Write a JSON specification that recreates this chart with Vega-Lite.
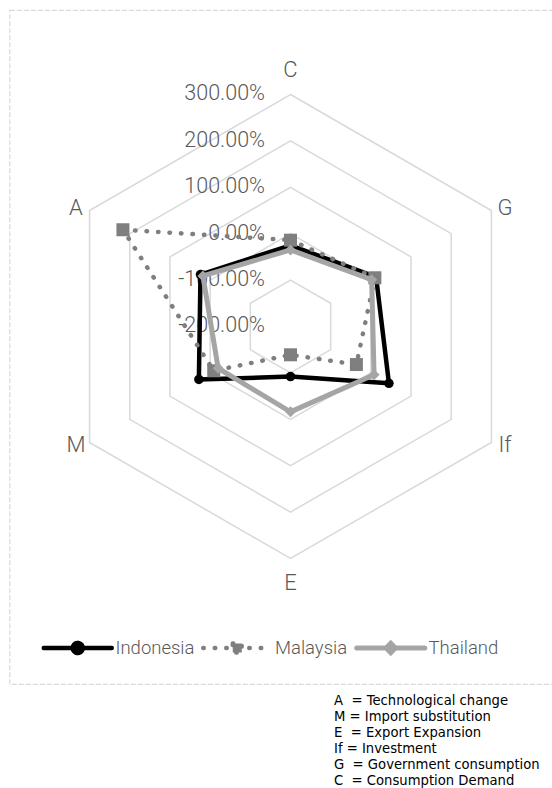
{
  "$schema": "https://vega.github.io/schema/vega-lite/v6.json",
  "width": 545,
  "height": 674,
  "autosize": {"type": "none"},
  "padding": {"left": 9.5, "top": 10, "right": -2.5, "bottom": 104},
  "background": "white",
  "config": {
    "view": {"stroke": "#d9d9d9", "strokeDash": [5, 2], "strokeWidth": 1.2},
    "font": "Roboto"
  },
  "title": {
    "text": [
      "A\u00a0 = Technological change",
      "M = Import substitution",
      "E\u00a0 = Export Expansion",
      "If = Investment",
      "G\u00a0 = Government consumption",
      "C\u00a0 = Consumption Demand"
    ],
    "orient": "bottom",
    "anchor": "start",
    "frame": "group",
    "align": "left",
    "baseline": "top",
    "dx": 324.5,
    "offset": 11,
    "font": "DejaVu Sans",
    "fontSize": 13.2,
    "fontWeight": "normal",
    "color": "#000000",
    "lineHeight": 16
  },
  "datasets": {
    "series": [
      {"country": "Indonesia", "axis": "C", "value": -25},
      {"country": "Indonesia", "axis": "G", "value": 13},
      {"country": "Indonesia", "axis": "If", "value": 45},
      {"country": "Indonesia", "axis": "E", "value": -92},
      {"country": "Indonesia", "axis": "M", "value": 28},
      {"country": "Indonesia", "axis": "A", "value": 24},
      {"country": "Malaysia", "axis": "C", "value": -14},
      {"country": "Malaysia", "axis": "G", "value": 10},
      {"country": "Malaysia", "axis": "If", "value": -36},
      {"country": "Malaysia", "axis": "E", "value": -139},
      {"country": "Malaysia", "axis": "M", "value": -9},
      {"country": "Malaysia", "axis": "A", "value": 217},
      {"country": "Thailand", "axis": "C", "value": -35},
      {"country": "Thailand", "axis": "G", "value": 2},
      {"country": "Thailand", "axis": "If", "value": 8},
      {"country": "Thailand", "axis": "E", "value": -16},
      {"country": "Thailand", "axis": "M", "value": -20},
      {"country": "Thailand", "axis": "A", "value": 18}
    ],
    "rings": [
      {"axis": "C", "ring": [-100, 0, 100, 200, 300]},
      {"axis": "G", "ring": [-100, 0, 100, 200, 300]},
      {"axis": "If", "ring": [-100, 0, 100, 200, 300]},
      {"axis": "E", "ring": [-100, 0, 100, 200, 300]},
      {"axis": "M", "ring": [-100, 0, 100, 200, 300]},
      {"axis": "A", "ring": [-100, 0, 100, 200, 300]}
    ],
    "ticks": [
      {"tick": -200, "label": "-200.00%"},
      {"tick": -100, "label": "-100.00%"},
      {"tick": 0, "label": "0.00%"},
      {"tick": 100, "label": "100.00%"},
      {"tick": 200, "label": "200.00%"},
      {"tick": 300, "label": "300.00%"}
    ],
    "axes": [
      {"axis": "C"}, {"axis": "G"}, {"axis": "If"},
      {"axis": "E"}, {"axis": "M"}, {"axis": "A"}
    ]
  },
  "encoding": {
    "x": {"field": "x", "type": "quantitative", "scale": {"domain": [-605.6, 569.0], "nice": false, "zero": false}, "axis": null},
    "y": {"field": "y", "type": "quantitative", "scale": {"domain": [-770.5, 682.1], "nice": false, "zero": false}, "axis": null}
  },
  "layer": [
    {
      "data": {"name": "rings"},
      "transform": [
        {"flatten": ["ring"]},
        {"calculate": "indexof(['C','G','If','E','M','A'], datum.axis)", "as": "k"},
        {"calculate": "PI / 2 - datum.k * PI / 3", "as": "angle"},
        {"calculate": "(datum.ring + 200) * cos(datum.angle)", "as": "x"},
        {"calculate": "(datum.ring + 200) * sin(datum.angle)", "as": "y"}
      ],
      "mark": {"type": "line", "interpolate": "linear-closed", "color": "#d9d9d9", "strokeWidth": 1.5},
      "encoding": {
        "detail": {"field": "ring", "type": "nominal"},
        "order": {"field": "k", "type": "quantitative"}
      }
    },
    {
      "data": {"name": "ticks"},
      "transform": [
        {"calculate": "0", "as": "x"},
        {"calculate": "datum.tick + 200", "as": "y"}
      ],
      "mark": {"type": "text", "align": "right", "baseline": "middle", "dx": -25.5, "font": "Roboto", "fontSize": 21.5, "fontWeight": 300, "color": "#595959"},
      "encoding": {"text": {"field": "label"}}
    },
    {
      "data": {"name": "axes"},
      "transform": [
        {"calculate": "indexof(['C','G','If','E','M','A'], datum.axis)", "as": "k"},
        {"calculate": "PI / 2 - datum.k * PI / 3", "as": "angle"},
        {"calculate": "515 + 38 * abs(sin(datum.angle))", "as": "lr"},
        {"calculate": "datum.lr * cos(datum.angle)", "as": "x"},
        {"calculate": "datum.lr * sin(datum.angle) * (abs(sin(datum.angle)) < 0.9 ? 0.96 : 1)", "as": "y"}
      ],
      "mark": {"type": "text", "align": "center", "baseline": "middle", "font": "Roboto", "fontSize": 22, "fontWeight": 300, "color": "#595959"},
      "encoding": {"text": {"field": "axis"}}
    },
    {
      "data": {"name": "series"},
      "transform": [
        {"calculate": "indexof(['C','G','If','E','M','A'], datum.axis)", "as": "k"},
        {"calculate": "PI / 2 - datum.k * PI / 3", "as": "angle"},
        {"calculate": "(datum.value + 200) * cos(datum.angle)", "as": "x"},
        {"calculate": "(datum.value + 200) * sin(datum.angle)", "as": "y"}
      ],
      "layer": [
        {
          "transform": [{"filter": "datum.country === 'Indonesia'"}],
          "mark": {"type": "line", "interpolate": "linear-closed", "strokeWidth": 4.5, "strokeJoin": "round"},
          "encoding": {
            "order": {"field": "k", "type": "quantitative"},
            "color": {
              "field": "country", "type": "nominal",
              "scale": {"domain": ["Indonesia", "Malaysia", "Thailand"], "range": ["#000000", "#7f7f7f", "#a5a5a5"]},
              "legend": {
                "title": null,
                "orient": "bottom-left",
                "direction": "horizontal",
                "offset": 26,
                "padding": 0,
                "clipHeight": 20,
                "symbolSize": 4624,
                "symbolOffset": 33,
                "labelOffset": 28.5,
                "columnPadding": 0.5,
                "labelFont": "Roboto",
                "labelFontSize": 18.5,
                "labelFontWeight": 300,
                "labelColor": "#595959",
                "encode": {
                  "symbols": {
                    "update": {
                      "shape": {"signal": "datum.value === 'Indonesia' ? 'M-1,0H1M0.147,0A0.147,0.147,0,1,1,-0.147,0A0.147,0.147,0,1,1,0.147,0Z' : datum.value === 'Malaysia' ? 'M-1,0H1M-0.132,-0.132H0.132V0.132H-0.132Z' : 'M-1,0H1M0,-0.135L0.135,0L0,0.135L-0.135,0Z'"},
                      "size": {"value": 4624},
                      "fill": {"signal": "datum.value === 'Indonesia' ? '#000000' : datum.value === 'Malaysia' ? '#7f7f7f' : '#a5a5a5'"},
                      "stroke": {"signal": "datum.value === 'Indonesia' ? '#000000' : datum.value === 'Malaysia' ? '#7f7f7f' : '#a5a5a5'"},
                      "strokeWidth": {"signal": "datum.value === 'Thailand' ? 5 : 4.5"},
                      "strokeDash": {"signal": "datum.value === 'Malaysia' ? [0.5, 11] : [1, 0]"},
                      "strokeCap": {"value": "round"},
                      "opacity": {"value": 1}
                    }
                  }
                }
              }
            }
          }
        },
        {
          "transform": [{"filter": "datum.country === 'Indonesia'"}],
          "mark": {"type": "point", "filled": true, "opacity": 1, "shape": "circle", "size": 90},
          "encoding": {"color": {"field": "country", "type": "nominal", "legend": null}}
        },
        {
          "transform": [{"filter": "datum.country === 'Malaysia'"}],
          "mark": {"type": "line", "interpolate": "linear-closed", "strokeWidth": 4.5, "strokeDash": [0.5, 11], "strokeCap": "round"},
          "encoding": {
            "order": {"field": "k", "type": "quantitative"},
            "color": {"field": "country", "type": "nominal", "legend": null}
          }
        },
        {
          "transform": [{"filter": "datum.country === 'Malaysia'"}],
          "mark": {"type": "point", "filled": true, "opacity": 1, "shape": "square", "size": 169},
          "encoding": {"color": {"field": "country", "type": "nominal", "legend": null}}
        },
        {
          "transform": [{"filter": "datum.country === 'Thailand'"}],
          "mark": {"type": "line", "interpolate": "linear-closed", "strokeWidth": 5, "strokeJoin": "round"},
          "encoding": {
            "order": {"field": "k", "type": "quantitative"},
            "color": {"field": "country", "type": "nominal", "legend": null}
          }
        },
        {
          "transform": [{"filter": "datum.country === 'Thailand'"}],
          "mark": {"type": "point", "filled": true, "opacity": 1, "shape": "diamond", "size": 121},
          "encoding": {"color": {"field": "country", "type": "nominal", "legend": null}}
        }
      ]
    }
  ]
}
